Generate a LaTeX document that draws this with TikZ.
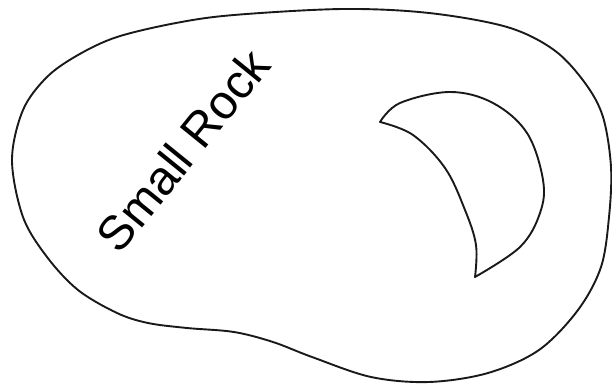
\documentclass[tikz,border=0pt]{standalone}
\usepackage{fontspec}
\setmainfont{Liberation Sans}
\begin{document}
\begin{tikzpicture}[x=1pt,y=-1pt,
  outline/.style={draw=black!90,line width=1.9pt,line join=round},
  label/.style={font=\fontsize{48}{54}\selectfont,inner sep=0pt}]
\useasboundingbox (0,0) rectangle (612,387);
\draw[outline] plot[smooth cycle,tension=0.55] coordinates {
 (12,160) (23,110) (47,77) (78,55) (117,37) (176,23) (234,15) (343,9)
 (429,13) (507,27) (554,50) (585,83) (603,117) (611,167) (609,217)
 (601,267) (578,310) (539,350) (488,373) (429,382) (371,377) (312,357)
 (273,342) (234,332) (187,328) (148,323) (117,313) (78,290) (47,257)
 (23,217)};
\draw[outline] plot[smooth,tension=0.6] coordinates {
 (380,122) (400,103) (450,92) (493,103) (527,133) (543,180) (540,213) (520,247) (475,277)}
 -- plot[smooth,tension=0.6] coordinates {
 (475,277) (476,245) (465,210) (445,168) (413,135) (380,122)} -- cycle;
\node[label,rotate=51] (rock) at (183,150) {Small Rock};
\end{tikzpicture}
\end{document}
